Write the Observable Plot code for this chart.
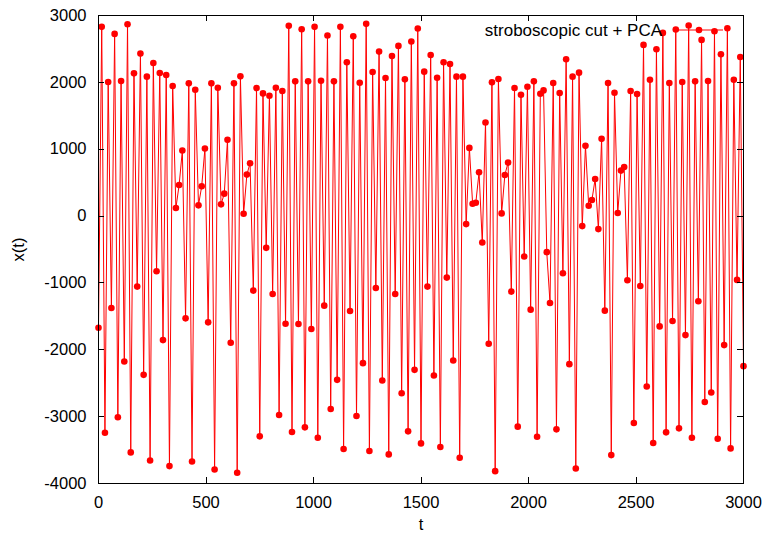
<!DOCTYPE html>
<html>
<head>
<meta charset="utf-8">
<script src="https://cdn.jsdelivr.net/npm/d3@7"></script>
<script src="https://cdn.jsdelivr.net/npm/@observablehq/plot@0.6"></script>
<style>
  html, body { margin: 0; padding: 0; background: #fff; }
  #chart { width: 767px; height: 534px; }
</style>
</head>
<body>
<div id="chart"></div>
<script>
// sampling step of the stroboscopic cut (t)
const tStep = 15;
// x(t) values, one per cut
const xValues = [
  -1670, 2830, -3240, 2005, -1375, 2725, -3010, 2020, -2175, 2870,
  -3535, 2135, -1055, 2430, -2375, 2085, -3655, 2290, -825, 2140,
  -1855, 2110, -3740, 1945, 120, 465, 980, -1530, 1985, -3670,
  1890, 160, 445, 1010, -1590, 1985, -3790, 1920, 175, 335,
  1140, -1895, 1985, -3840, 2090, 35, 620, 790, -1115, 1915,
  -3295, 1835, -475, 1800, -1165, 1920, -2975, 1870, -1610, 2845,
  -3230, 2015, -1615, 2795, -3160, 2015, -1690, 2830, -3315, 2025,
  -1340, 2700, -2885, 2015, -2450, 2830, -3485, 2300, -1420, 2690,
  -2990, 1995, -2200, 2875, -3515, 2155, -1075, 2460, -2460, 2065,
  -3565, 2395, -1165, 2545, -2650, 2045, -3220, 2610, -2300, 2805,
  -3400, 2160, -1055, 2410, -2385, 2070, -3455, 2300, -920, 2275,
  -2160, 2085, -3615, 2085, -120, 1020, 185, 200, 655, -395,
  1400, -1910, 2000, -3815, 2050, 40, 615, 800, -1130, 1915,
  -3150, 1815, -605, 1935, -1400, 2015, -3300, 1830, 1880, -540,
  -1300, 1990, -3190, 1840, -855, 2345, -2215, 2085, -3775, 2145,
  -150, 1050, 155, 240, 555, -195, 1155, -1415, 1990, -3575,
  1845, 45, 680, 735, -960, 1870, -3095, 1825, -1045, 2560,
  -2550, 2040, -3395, 2495, -1650, 2740, -3235, 1990, -1570, 2790,
  -3175, 2005, -1780, 2850, -3315, 2015, -1275, 2635, -2780, 2020,
  -2640, 2765, -3330, 2420, -1930, 2810, -3475, 2040, -955, 2380,
  -2245
];
const xTicks = [0, 500, 1000, 1500, 2000, 2500, 3000];
const yTicks = [-4000, -3000, -2000, -1000, 0, 1000, 2000, 3000];
const xLabel = "t";
const yLabel = "x(t)";
const legendLabel = "stroboscopic cut + PCA";

const data = xValues.map((v, i) => ({t: i * tStep, x: v}));
const font = "'Liberation Sans', Arial, Helvetica, sans-serif";
const fmt = d => String(d);

// inward tick marks on all four sides (gnuplot style), placed through Plot's scales
const innerTicks = (index, scales, values, dims) => {
  const g = d3.create("svg:g").attr("stroke", "black").attr("stroke-width", 1);
  const top = dims.marginTop, bottom = dims.height - dims.marginBottom;
  const left = dims.marginLeft, right = dims.width - dims.marginRight;
  const len = 6;
  for (const t of xTicks) {
    const px = Math.round(scales.x(t)) + 0.5;
    g.append("line").attr("x1", px).attr("x2", px).attr("y1", bottom).attr("y2", bottom - len);
    g.append("line").attr("x1", px).attr("x2", px).attr("y1", top).attr("y2", top + len);
  }
  for (const v of yTicks) {
    const py = Math.round(scales.y(v)) + 0.5;
    g.append("line").attr("y1", py).attr("y2", py).attr("x1", left).attr("x2", left + len);
    g.append("line").attr("y1", py).attr("y2", py).attr("x1", right).attr("x2", right - len);
  }
  return g.node();
};

const legend = (index, scales, values, dims) => {
  const g = d3.create("svg:g");
  const xr = dims.width - dims.marginRight;
  const yc = dims.marginTop + 15;
  g.append("text")
    .attr("x", xr - 81).attr("y", yc + 6)
    .attr("text-anchor", "end")
    .attr("font-family", font).attr("font-size", 17)
    .attr("fill", "black")
    .text(legendLabel);
  g.append("line")
    .attr("x1", xr - 68).attr("x2", xr - 20)
    .attr("y1", yc).attr("y2", yc)
    .attr("stroke", "red").attr("stroke-width", 1);
  g.append("circle")
    .attr("cx", xr - 44).attr("cy", yc).attr("r", 3.3)
    .attr("fill", "red");
  return g.node();
};

const chart = Plot.plot({
  width: 767,
  height: 534,
  marginLeft: 98,
  marginRight: 24,
  marginTop: 15,
  marginBottom: 51,
  style: {fontFamily: font, fontSize: "16.5px", background: "white", color: "black"},
  x: {domain: [0, 3000]},
  y: {domain: [-4000, 3000]},
  marks: [
    Plot.line(data, {x: "t", y: "x", stroke: "red", strokeWidth: 1}),
    Plot.dot(data, {x: "t", y: "x", fill: "red", r: 3.3}),
    Plot.axisX(xTicks, {anchor: "bottom", tickSize: 0, tickPadding: 13, tickFormat: fmt, label: null, fontSize: 16.5}),
    Plot.axisY(yTicks, {anchor: "left", tickSize: 0, tickPadding: 12, tickFormat: fmt, label: null, fontSize: 16.5}),
    innerTicks,
    Plot.frame({stroke: "black", strokeWidth: 1}),
    Plot.text([xLabel], {frameAnchor: "bottom", dy: 41, lineAnchor: "middle", fontSize: 16.5, fill: "black"}),
    Plot.text([yLabel], {frameAnchor: "left", dx: -80, rotate: -90, lineAnchor: "middle", textAnchor: "middle", fontSize: 16.5, fill: "black"}),
    legend
  ]
});
document.getElementById("chart").appendChild(chart);
</script>
</body>
</html>
